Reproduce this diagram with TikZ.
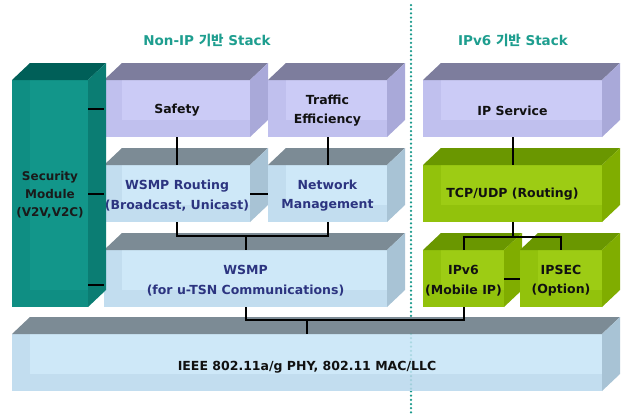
\documentclass[tikz,border=0pt]{standalone}
\usepackage{fontspec}
\setmainfont{DejaVu Sans}
\newfontfamily\krfont{Noto Sans CJK KR}
\usetikzlibrary{fit,calc}
% palettes: B = band/base, M = main front, T = top, S = side
\definecolor{lavB}{HTML}{C0C0EE}
\definecolor{lavM}{HTML}{CBCBF6}
\definecolor{lavT}{HTML}{7D7D9D}
\definecolor{lavS}{HTML}{A9A9D9}
\definecolor{lavX}{HTML}{111111}
\definecolor{bluB}{HTML}{C2DDEF}
\definecolor{bluM}{HTML}{CEE8F8}
\definecolor{bluT}{HTML}{7C8B95}
\definecolor{bluS}{HTML}{A8C3D5}
\definecolor{bluX}{HTML}{2C3480}
\definecolor{ieeX}{HTML}{111111}
\definecolor{grnB}{HTML}{92C20C}
\definecolor{grnM}{HTML}{9DCC14}
\definecolor{grnT}{HTML}{6A9700}
\definecolor{grnS}{HTML}{80AD00}
\definecolor{grnX}{HTML}{111111}
\definecolor{teaB}{HTML}{0F8E83}
\definecolor{teaM}{HTML}{12968A}
\definecolor{teaT}{HTML}{005F58}
\definecolor{teaS}{HTML}{0B7D73}
\definecolor{teaX}{HTML}{1A1A1A}
\definecolor{headC}{HTML}{1E9E8F}
\definecolor{dotC}{HTML}{1A9A8C}
\newcommand\boxfont{\bfseries\fontsize{12.5}{19.5}\selectfont}
\newcommand\secfont{\bfseries\fontsize{12}{18}\selectfont}
% #1 name, #2 x1, #3 y1, #4 x2, #5 y2 (front face), #6 palette, #7 text colour, #8 text node options, #9 text
\newcommand\blk[9]{%
  \fill[#6B] (#2,#3) rectangle (#4,#5);
  \fill[#6M] (#2+18,#3) rectangle (#4,#5-17);
  \fill[#6T] (#2,#3) -- (#2+18,#3-17) -- (#4+18,#3-17) -- (#4,#3) -- cycle;
  \fill[#6S] (#4,#3) -- (#4+18,#3-17) -- (#4+18,#5-17) -- (#4,#5) -- cycle;
  \node[fit={(#2,#3) (#4,#5)}, inner sep=0pt] (#1) {};
  \node[align=center, inner sep=0pt, text=#7, font=\boxfont, #8] (#1-t) at (#1.center) {#9};
}
\begin{document}
\begin{tikzpicture}[x=1pt,y=-1pt,
  conn/.style={line width=2pt, black},
  dotline/.style={dotC, line width=2.5pt, dash pattern=on 0pt off 4.2pt, line cap=round},
  heading/.style={text=headC, font=\bfseries\fontsize{13.5}{15}\selectfont}]
\useasboundingbox (0,0) rectangle (625,416);
\fill[white] (0,0) rectangle (625,416);

\draw[dotline] (411,5) -- (411,416);

\node[heading] (h1) at (207,40) {Non-IP {\krfont 기반} Stack};
\node[heading] (h2) at (513,40) {IPv6 {\krfont 기반} Stack};

\blk{safety}{104}{80}{250}{137}{lav}{lavX}{yshift=-2pt}{Safety}
\blk{traffic}{268}{80}{387}{137}{lav}{lavX}{yshift=-2pt}{Traffic\\Efficiency}
\blk{ipsvc}{423}{80}{602}{137}{lav}{lavX}{yshift=-2pt}{IP Service}
\blk{wsmpr}{104}{165}{250}{222}{blu}{bluX}{yshift=-2pt}{WSMP Routing\\(Broadcast, Unicast)}
\blk{netm}{268}{165}{387}{222}{blu}{bluX}{yshift=-2pt}{Network\\Management}
\blk{tcp}{423}{165}{602}{222}{grn}{grnX}{yshift=-1pt}{TCP/UDP\ (Routing)}
\blk{wsmp}{104}{250}{387}{307}{blu}{bluX}{yshift=-2pt}{WSMP\\(for u-TSN Communications)}
\blk{ipv6}{423}{250}{504}{307}{grn}{grnX}{yshift=-2pt}{IPv6\\(Mobile IP)}
\blk{ipsec}{520}{250}{602}{307}{grn}{grnX}{yshift=-2pt}{IPSEC\\(Option)}
\blk{sec}{12}{80}{88}{307}{tea}{teaX}{yshift=-1.5pt, font=\secfont}{Security\\Module\\(V2V,V2C)}
\blk{ieee}{12}{334}{602}{391}{blu}{ieeX}{yshift=-4.5pt}{IEEE 802.11a/g PHY, 802.11 MAC/LLC}
\draw[dotline, opacity=0.2] (411,334) -- (411,391);

\draw[conn] (safety.south) -- (wsmpr.north);
\draw[conn] (traffic.south) -- (netm.north);
\draw[conn] (wsmpr.east) -- (netm.west);
\draw[conn] (wsmpr.south) -- ++(0,14) coordinate (b1) -| (netm.south);
\draw[conn] (wsmp.north) -- (wsmp.north |- b1);
\draw[conn] (ipsvc.south) -- (tcp.north);
\draw[conn] (ipv6.north) -- ++(0,-13) coordinate (b2) -| (ipsec.north);
\draw[conn] (tcp.south) -- (tcp.south |- b2);
\draw[conn] (ipv6.east) -- (ipsec.west);
\draw[conn] (wsmp.south) -- ++(0,13) coordinate (b3) -| (ipv6.south);
\draw[conn] (ieee.north) -- (ieee.north |- b3);
\draw[conn] (sec.east |- safety.west) -- (safety.west);
\draw[conn] (sec.east |- wsmpr.west) -- (wsmpr.west);
\draw[conn] ($(sec.east |- wsmp.west)+(0,6)$) -- ($(wsmp.west)+(0,6)$);
\end{tikzpicture}
\end{document}
